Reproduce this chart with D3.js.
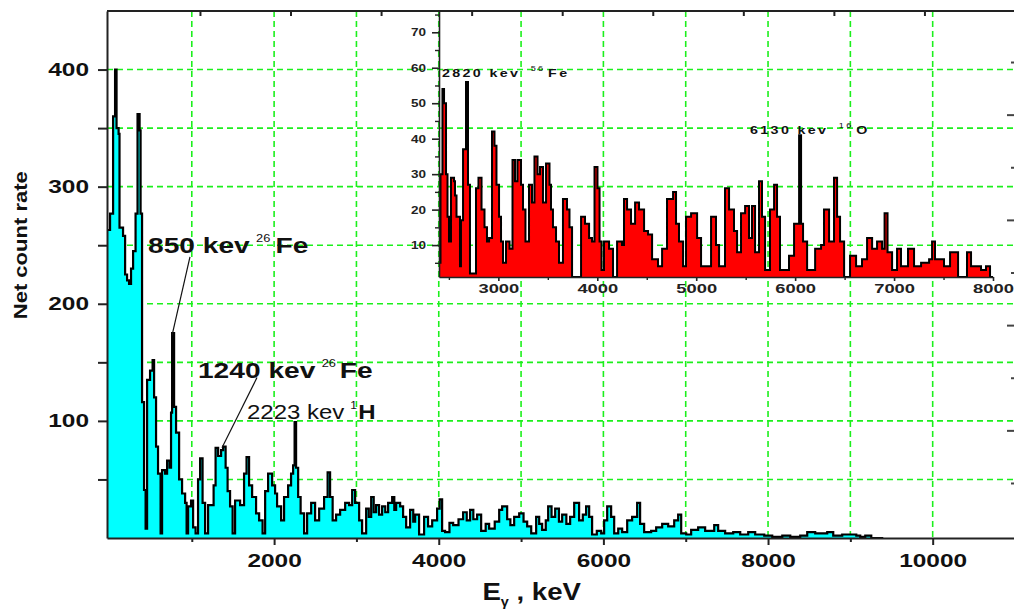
<!DOCTYPE html>
<html><head><meta charset="utf-8">
<script src="https://cdn.jsdelivr.net/npm/d3@7"></script>
<style>
body{margin:0;background:#fff}
svg{display:block}
text{font-family:"Liberation Sans",Arial,sans-serif}
</style>
</head><body>
<svg id="c" width="1014" height="611"></svg>
<script>
// ---------- DATA ----------
// main spectrum: [energy keV, net count rate] (histogram steps)
const mainSpectrum = [[-23,263],[7,277],[44,360],[68,400],[86,350],[111,345],[122,265],[165,258],[190,225],[214,220],[238,217],[262,230],[287,245],[317,277],[341,362],[366,348],[378,277],[396,116],[420,41],[439,8],[457,135],[493,143],[524,152],[542,120],[566,78],[590,55],[621,4],[639,58],[676,55],[700,66],[730,60],[748,107],[761,175],[785,112],[809,90],[846,50],[882,38],[919,30],[937,4],[955,27],[991,32],[1016,9],[1046,4],[1076,50],[1101,68],[1131,30],[1162,4],[1198,28],[1265,45],[1289,77],[1320,70],[1356,75],[1380,78],[1411,60],[1435,40],[1465,27],[1496,4],[1526,32],[1587,28],[1635,55],[1665,69],[1696,45],[1733,35],[1781,21],[1818,15],[1860,4],[1891,40],[1927,55],[1976,45],[2012,38],[2036,27],[2085,15],[2121,35],[2170,45],[2206,55],[2231,62],[2249,99],[2267,60],[2292,35],[2322,21],[2364,4],[2401,21],[2450,30],[2498,15],[2547,25],[2607,35],[2650,56],[2680,35],[2711,15],[2753,20],[2802,24],[2863,30],[2911,28],[2948,41],[2984,30],[3033,15],[3069,4],[3118,25],[3150,18],[3179,35],[3210,22],[3239,28],[3275,20],[3312,27],[3350,22],[3385,30],[3434,35],[3460,24],[3482,30],[3531,27],[3567,18],[3604,9],[3652,24],[3690,14],[3713,20],[3761,3],[3822,18],[3870,10],[3920,15],[3980,25],[4011,33],[4041,6],[4077,5],[4130,13],[4175,11],[4240,16],[4296,22],[4340,15],[4381,24],[4420,16],[4466,20],[4515,6],[4570,12],[4612,8],[4680,14],[4734,24],[4770,27],[4831,16],[4870,11],[4916,18],[4977,21],[5030,14],[5074,10],[5123,4],[5183,18],[5220,12],[5256,7],[5300,15],[5329,27],[5370,18],[5414,25],[5460,14],[5499,20],[5550,12],[5596,18],[5645,30],[5705,15],[5750,20],[5790,27],[5827,18],[5863,3],[5920,6],[5973,4],[6009,15],[6046,27],[6094,18],[6131,4],[6180,8],[6228,5],[6289,15],[6349,18],[6410,30],[6446,12],[6495,5],[6580,6],[6641,9],[6714,12],[6787,10],[6860,15],[6908,20],[6945,4],[7006,3],[7066,7],[7151,9],[7236,6],[7346,11],[7394,6],[7479,4],[7577,5],[7662,3],[7759,5],[7844,3],[7954,2],[8051,1],[8173,2],[8270,1],[8391,2],[8476,5],[8573,4],[8719,5],[8792,2],[8901,3],[9023,3],[9072,2],[9120,1],[9181,2],[9254,0],[9400,0]];

// inset spectrum: [energy keV, counts]
const insetSpectrum = [[2400,5],[2415,30],[2435,54],[2451,50],[2471,30],[2486,18],[2501,11],[2521,29],[2552,28],[2562,24],[2577,18],[2592,18],[2612,4],[2622,17],[2643,37],[2673,56],[2693,27],[2713,2],[2774,26],[2799,29],[2830,20],[2860,15],[2885,11],[2906,12],[2936,42],[2961,38],[2981,27],[3007,18],[3027,11],[3047,5],[3077,11],[3113,9],[3143,34],[3168,28],[3193,34],[3229,27],[3249,20],[3274,11],[3310,27],[3340,22],[3365,35],[3396,30],[3421,32],[3451,22],[3482,33],[3517,27],[3532,20],[3552,15],[3583,11],[3613,5],[3653,23],[3694,20],[3719,15],[3745,1],[3836,18],[3876,16],[3917,12],[3947,11],[3972,32],[4002,26],[4023,11],[4043,3],[4068,11],[4119,9],[4159,1],[4200,11],[4250,10],[4270,23],[4301,20],[4341,16],[4382,22],[4422,20],[4473,14],[4513,13],[4554,6],[4614,4],[4655,9],[4705,23],[4766,25],[4796,16],[4826,11],[4867,4],[4897,18],[4948,19],[5009,12],[5049,4],[5150,18],[5200,10],[5231,4],[5291,26],[5332,20],[5382,14],[5413,8],[5453,19],[5494,21],[5534,12],[5564,21],[5595,8],[5635,28],[5665,18],[5696,3],[5746,20],[5787,27],[5817,18],[5847,3],[5938,7],[5989,16],[6040,41],[6060,16],[6080,11],[6121,3],[6202,9],[6262,10],[6292,20],[6343,11],[6393,29],[6424,18],[6454,11],[6495,1],[6555,7],[6616,4],[6676,6],[6727,12],[6778,9],[6828,11],[6879,9],[6904,19],[6934,8],[6980,3],[7030,9],[7070,4],[7141,9],[7202,4],[7273,5],[7354,6],[7384,11],[7414,6],[7505,4],[7566,8],[7647,1],[7737,8],[7778,4],[7879,3],[7929,4],[7970,1],[8000,0]];

const mainXTicks = [2000, 4000, 6000, 8000, 10000];
const mainXMinor = [1000, 3000, 5000, 7000, 9000];
const mainYTicks = [100, 200, 300, 400];
const mainYMinor = [50, 150, 250, 350];
const gridX = [1000, 2000, 3000, 4000, 5000, 6000, 7000, 8000, 9000, 10000];
const gridY = [50, 100, 150, 200, 250, 300, 350, 400];
const insetXTicks = [3000, 4000, 5000, 6000, 7000, 8000];
const insetXMinor = [2500, 3500, 4500, 5500, 6500, 7500];
const insetYTicks = [10, 20, 30, 40, 50, 60, 70];
const insetYMinor = [5, 15, 25, 35, 45, 55, 65, 75];
const topTicks = [1, 2, 3, 4, 5, 6, 7, 8, 9];
const rightTicksLong = [2, 4, 6, 8];
const rightTicksShort = [1, 3, 5, 7, 9];

const yTitle = "Net count rate";
const xTitle = ["E", "\u03b3", " , keV"];
const peakLabels = [
  {text: "850 kev", sup: "26", el: "Fe"},
  {text: "1240 kev", sup: "26", el: "Fe"},
  {text: "2223 kev", sup: "1", el: "H"}
];
const insetLabels = [
  {text: "2820 kev", sup: "56", el: "Fe"},
  {text: "6130 kev", sup: "16", el: "O"}
];

// ---------- DRAWING ----------
const svg = d3.select("#c");
const GREEN = "#1cf01c";
const fmt = d3.format("d");
const x = d3.scaleLinear().domain([-30, 11000]).range([107, 1015]);
const y = d3.scaleLinear().domain([0, 450]).range([538, 11]);
const xi = d3.scaleLinear().domain([2400, 8000]).range([439, 993]);
const yi = d3.scaleLinear().domain([1, 76]).range([277, 11]).clamp(true);
const xTop = d3.scaleLinear().domain([0, 10]).range([109.4, 1015]);
const yRight = d3.scaleLinear().domain([0, 10]).range([535.6, 9.4]);

// grid
const grid = svg.append("g").attr("stroke", GREEN).attr("stroke-width", 1.6).attr("stroke-dasharray", "6,4");
grid.selectAll("line.v").data(gridX).join("line").attr("class", "v")
  .attr("x1", d => x(d)).attr("x2", d => x(d)).attr("y1", y(450)).attr("y2", y(0));
grid.selectAll("line.h").data(gridY).join("line").attr("class", "h")
  .attr("x1", x(-30)).attr("x2", 1014).attr("y1", d => y(d)).attr("y2", d => y(d));

// main spectrum
const areaM = d3.area().curve(d3.curveStepAfter).x(d => x(d[0])).y0(y(0)).y1(d => y(d[1]));
const lineM = d3.line().curve(d3.curveStepAfter).x(d => x(d[0])).y(d => y(d[1]));
svg.append("path").datum(mainSpectrum).attr("fill", "#00ffff").attr("d", areaM);
svg.append("path").datum(mainSpectrum).attr("fill", "none").attr("stroke", "#000")
  .attr("stroke-width", 2.2).attr("d", lineM);

// inset spectrum
const areaI = d3.area().curve(d3.curveStepAfter).x(d => xi(d[0])).y0(yi(1)).y1(d => yi(d[1]));
const lineI = d3.line().curve(d3.curveStepAfter).x(d => xi(d[0])).y(d => yi(d[1]));
svg.append("path").datum(insetSpectrum).attr("fill", "#ff0000").attr("d", areaI);
svg.append("path").datum(insetSpectrum).attr("fill", "none").attr("stroke", "#000")
  .attr("stroke-width", 2).attr("d", lineI);

function styleAxis(g, sw, col) {
  g.select(".domain").attr("stroke", col || "#222").attr("stroke-width", sw);
  g.selectAll(".tick line").attr("stroke", col || "#222").attr("stroke-width", sw);
}

// main axes
const axB = svg.append("g").attr("transform", `translate(0,${y(0)})`)
  .call(d3.axisBottom(x).tickValues(mainXTicks).tickFormat(fmt).tickSize(7).tickSizeOuter(0).tickPadding(9));
styleAxis(axB, 2);
axB.selectAll("text").attr("font-size", 19).attr("font-weight", "bold").attr("fill", "#111")
  .attr("textLength", d => fmt(d).length * 13.6).attr("lengthAdjust", "spacingAndGlyphs");
const axBm = svg.append("g").attr("transform", `translate(0,${y(0)})`)
  .call(d3.axisBottom(x).tickValues(mainXMinor).tickSize(4).tickFormat(""));
axBm.select(".domain").remove(); styleAxis(axBm, 2);

const axL = svg.append("g").attr("transform", `translate(${x(-30)},0)`)
  .call(d3.axisLeft(y).tickValues(mainYTicks).tickFormat(fmt).tickSize(9).tickSizeOuter(0).tickPadding(9));
styleAxis(axL, 2);
axL.selectAll("text").attr("font-size", 19).attr("font-weight", "bold").attr("fill", "#111")
  .attr("textLength", d => fmt(d).length * 13.6).attr("lengthAdjust", "spacingAndGlyphs");
const axLm = svg.append("g").attr("transform", `translate(${x(-30)},0)`)
  .call(d3.axisLeft(y).tickValues(mainYMinor).tickSize(9).tickFormat(""));
axLm.select(".domain").remove(); styleAxis(axLm, 2);

// top border and ticks
svg.append("line").attr("x1", x(-30)).attr("x2", 1014).attr("y1", y(450)).attr("y2", y(450))
  .attr("stroke", "#222").attr("stroke-width", 2);
const axT = svg.append("g").attr("transform", `translate(0,${y(450)})`)
  .call(d3.axisBottom(xTop).tickValues(topTicks).tickSize(5).tickFormat(""));
axT.select(".domain").remove(); styleAxis(axT, 2);

// right ticks
const axR1 = svg.append("g").attr("transform", "translate(1014,0)")
  .call(d3.axisLeft(yRight).tickValues(rightTicksLong).tickSize(7).tickFormat(""));
axR1.select(".domain").remove(); styleAxis(axR1, 2, "#444");
const axR2 = svg.append("g").attr("transform", "translate(1014,0)")
  .call(d3.axisLeft(yRight).tickValues(rightTicksShort).tickSize(3).tickFormat(""));
axR2.select(".domain").remove(); styleAxis(axR2, 2, "#444");

// inset axes
const axIB = svg.append("g").attr("transform", `translate(0,${yi(1)})`)
  .call(d3.axisBottom(xi).tickValues(insetXTicks).tickFormat(fmt).tickSize(4).tickSizeOuter(0).tickPadding(3));
styleAxis(axIB, 1.6);
axIB.selectAll("text").attr("font-size", 12).attr("font-weight", "bold").attr("fill", "#222")
  .attr("textLength", d => fmt(d).length * 10.2).attr("lengthAdjust", "spacingAndGlyphs");
const axIBm = svg.append("g").attr("transform", `translate(0,${yi(1)})`)
  .call(d3.axisBottom(xi).tickValues(insetXMinor).tickSize(3).tickFormat(""));
axIBm.select(".domain").remove(); styleAxis(axIBm, 1.4);

const axIL = svg.append("g").attr("transform", `translate(${xi(2400)},0)`)
  .call(d3.axisLeft(yi).tickValues(insetYTicks).tickFormat(fmt).tickSize(7).tickSizeOuter(0).tickPadding(6));
styleAxis(axIL, 1.6);
axIL.selectAll("text").attr("font-size", 11).attr("font-weight", "bold").attr("fill", "#222")
  .attr("textLength", d => fmt(d).length * 7.5).attr("lengthAdjust", "spacingAndGlyphs");
const axILm = svg.append("g").attr("transform", `translate(${xi(2400)},0)`)
  .call(d3.axisLeft(yi).tickValues(insetYMinor).tickSize(4).tickFormat(""));
axILm.select(".domain").remove(); styleAxis(axILm, 1.4);

// axis titles
svg.append("text").attr("transform", `translate(27,${y(250)}) rotate(-90)`)
  .attr("text-anchor", "middle").attr("font-size", 18).attr("font-weight", "bold").attr("fill", "#111")
  .attr("textLength", 148).attr("lengthAdjust", "spacingAndGlyphs").text(yTitle);

const xt = svg.append("g").attr("transform", `translate(${x(4530)},600) scale(1.2,1)`)
  .append("text").attr("font-size", 23).attr("font-weight", "bold").attr("fill", "#111");
xt.append("tspan").text(xTitle[0]);
xt.append("tspan").attr("font-size", 12).attr("dy", 6).text(xTitle[1]);
xt.append("tspan").attr("dy", -6).text(xTitle[2]);

// peak annotations
function label(px, py, lab, size, weight, stretch, supSize, supDy, gap1, gap2, ls) {
  const t = svg.append("g").attr("transform", `translate(${px},${py}) scale(${stretch},1)`)
    .append("text").attr("font-size", size).attr("font-weight", weight).attr("fill", "#111")
    .attr("letter-spacing", ls || 0);
  t.append("tspan").text(lab.text);
  t.append("tspan").attr("dx", gap1).attr("dy", -supDy).attr("font-size", supSize).attr("font-weight", "normal").text(lab.sup);
  t.append("tspan").attr("dx", gap2).attr("dy", supDy).attr("font-weight", "bold").text(lab.el);
}
label(x(468), y(243), peakLabels[0], 22, "bold", 1.28, 10, 11, 5, 4);
label(x(1075), y(137), peakLabels[1], 22, "bold", 1.28, 10, 11, 5, 3);
label(x(1670), y(102), peakLabels[2], 20, "normal", 1.2, 10, 10, 5, 1);

// leader lines
const leaders = [[[978, 240], [760, 173]], [[1792, 137], [1367, 77]]];
svg.selectAll("line.lead").data(leaders).join("line").attr("class", "lead")
  .attr("x1", d => x(d[0][0])).attr("y1", d => y(d[0][1]))
  .attr("x2", d => x(d[1][0])).attr("y2", d => y(d[1][1]))
  .attr("stroke", "#111").attr("stroke-width", 1.2);

// inset annotations
label(xi(2430), yi(57.3), insetLabels[0], 11, "bold", 1.3, 7, 6, 8, 2, 1.8);
label(xi(5544), yi(41.3), insetLabels[1], 11, "bold", 1.3, 7, 6, 8, 2, 1.8);
</script>
</body></html>
